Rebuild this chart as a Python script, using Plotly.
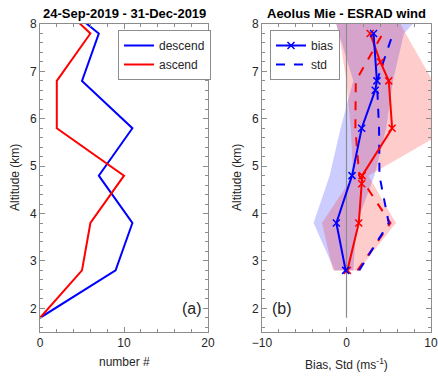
import plotly.graph_objects as go

# ---------------- data ----------------
# Panel (a): number of collocations per altitude bin
alt_a = [1.8, 2.8, 3.8, 4.8, 5.8, 6.8, 7.8, 8.8]
n_descend = [0, 9, 11, 7, 11, 5, 7, 0]
n_ascend = [0, 5, 6, 10, 2, 2, 6, 0]

# Panel (b): bias and std (m/s)
alt_b = [2.8, 3.8, 4.8, 5.8, 6.8, 7.8]
alt_bias_blue = [2.8, 3.8, 4.8, 5.8, 6.6, 6.8, 7.8]
bias_blue = [-0.1, -1.2, 0.65, 1.8, 3.4, 3.6, 3.2]
alt_bias_red = [2.8, 3.8, 4.63, 4.8, 5.8, 6.8, 7.2, 7.8]
bias_red = [0.1, 1.45, 1.8, 1.85, 5.4, 5.0, 4.0, 2.8]
std_blue = [1.5, 5.0, 3.9, 3.85, 3.6, 5.5]
std_red = [1.3, 5.2, 1.5, 1.05, 1.1, 4.3]

# shaded envelopes
alt_env = [2.8, 3.8, 4.8, 5.8, 6.8, 7.8, 8.8]
env_blue_lo = [-1.4, -3.9, -2.0, -0.7, 0.8, -0.9, -2.5]
env_blue_hi = [0.8, 1.2, 3.3, 4.7, 5.5, 6.8, 12.0]
env_red_lo = [-1.6, -2.9, 0.8, 0.5, 0.0, -0.9, -2.5]
env_red_hi = [1.4, 5.85, 2.6, 12.4, 10.2, 7.0, 4.0]

zero_x = [0, 0]
zero_alt = [1.8, 9.0]

# ---------------- figure ----------------
W, H = 438, 378
BLUE = "rgb(0,0,255)"
RED = "rgb(255,0,0)"
AX = "#8c8c8c"
TXT = "#262626"
FONT = "Liberation Sans, Arial, Helvetica, sans-serif"

fig = go.Figure()

# panel a
fig.add_trace(go.Scatter(x=n_descend, y=alt_a, mode="lines", name="descend",
                         line=dict(color=BLUE, width=2), xaxis="x", yaxis="y",
                         legend="legend"))
fig.add_trace(go.Scatter(x=n_ascend, y=alt_a, mode="lines", name="ascend",
                         line=dict(color=RED, width=2), xaxis="x", yaxis="y",
                         legend="legend"))

# panel b envelopes
def band(lo, hi, alts):
    return lo + hi[::-1], alts + alts[::-1]

bx, by = band(env_blue_lo, env_blue_hi, alt_env)
fig.add_trace(go.Scatter(x=bx, y=by, mode="lines", fill="toself",
                         fillcolor="rgba(0,0,255,0.2)", line=dict(width=0),
                         showlegend=False, hoverinfo="skip", xaxis="x2", yaxis="y2"))
rx, ry = band(env_red_lo, env_red_hi, alt_env)
fig.add_trace(go.Scatter(x=rx, y=ry, mode="lines", fill="toself",
                         fillcolor="rgba(255,0,0,0.2)", line=dict(width=0),
                         showlegend=False, hoverinfo="skip", xaxis="x2", yaxis="y2"))

# zero line
fig.add_trace(go.Scatter(x=zero_x, y=zero_alt, mode="lines",
                         line=dict(color="#8c8c8c", width=1.2),
                         showlegend=False, xaxis="x2", yaxis="y2"))

# std dashed
fig.add_trace(go.Scatter(x=std_red, y=alt_b, mode="lines",
                         line=dict(color=RED, width=2, dash="dash"),
                         showlegend=False, xaxis="x2", yaxis="y2"))
fig.add_trace(go.Scatter(x=std_blue, y=alt_b, mode="lines", name="std",
                         line=dict(color=BLUE, width=2, dash="dash"),
                         legend="legend2", legendrank=2, xaxis="x2", yaxis="y2"))

# bias
fig.add_trace(go.Scatter(x=bias_red, y=alt_bias_red, mode="lines+markers",
                         line=dict(color=RED, width=2),
                         marker=dict(symbol="x-thin", size=7,
                                     line=dict(color=RED, width=1.5)),
                         showlegend=False, xaxis="x2", yaxis="y2"))
fig.add_trace(go.Scatter(x=bias_blue, y=alt_bias_blue, mode="lines+markers",
                         name="bias", line=dict(color=BLUE, width=2),
                         marker=dict(symbol="x-thin", size=7,
                                     line=dict(color=BLUE, width=1.5)),
                         legend="legend2", legendrank=1, xaxis="x2", yaxis="y2"))

def px_x(p):
    return p / W

def px_y(p):
    return 1 - p / H

axis_common = dict(showline=True, linecolor=AX, linewidth=1, mirror="ticks",
                   ticks="inside", ticklen=5, tickcolor=AX, showgrid=False,
                   zeroline=False, automargin=False,
                   tickfont=dict(family=FONT, size=12, color=TXT))

fig.update_layout(
    width=W, height=H,
    margin=dict(l=0, r=0, t=0, b=0, autoexpand=False),
    paper_bgcolor="white", plot_bgcolor="white",
    font=dict(family=FONT, color=TXT),
    xaxis=dict(domain=[px_x(40), px_x(208)], range=[0, 20], tickvals=[0, 10, 20],
               minor=dict(ticks="inside", dtick=2, ticklen=3, tickcolor=AX),
               anchor="y", **axis_common),
    yaxis=dict(domain=[px_y(332), px_y(24)], range=[1.5, 8], dtick=1,
               minor=dict(ticks="inside", dtick=0.2, ticklen=3, tickcolor=AX),
               anchor="x", **axis_common),
    xaxis2=dict(domain=[px_x(262), px_x(431)], range=[-10, 10], tickvals=[-10, 0, 10],
                minor=dict(ticks="inside", dtick=2, ticklen=3, tickcolor=AX),
                anchor="y2", **axis_common),
    yaxis2=dict(domain=[px_y(332), px_y(24)], range=[1.5, 8], dtick=1,
                minor=dict(ticks="inside", dtick=0.2, ticklen=3, tickcolor=AX),
                anchor="x2", **axis_common),
    legend=dict(x=px_x(118), y=px_y(30), xanchor="left", yanchor="top",
                bgcolor="white", bordercolor=AX, borderwidth=1,
                font=dict(family=FONT, size=12, color=TXT),
                tracegroupgap=0, itemwidth=30),
    legend2=dict(x=px_x(270), y=px_y(30), xanchor="left", yanchor="top",
                 bgcolor="white", bordercolor=AX, borderwidth=1,
                 font=dict(family=FONT, size=12, color=TXT),
                 tracegroupgap=0, itemwidth=30, traceorder="normal"),
    showlegend=True,
)

ann = []
def add_text(x, y, text, size=12, bold=False, angle=0):
    ann.append(dict(x=px_x(x), y=px_y(y), xref="paper", yref="paper", text=text,
                    showarrow=False, textangle=angle,
                    font=dict(family=FONT, size=size, color="black" if bold else TXT),
                    xanchor="center", yanchor="middle"))

add_text(124, 13, "<b>24-Sep-2019 - 31-Dec-2019</b>", size=13, bold=True)
add_text(346, 13, "<b>Aeolus Mie - ESRAD wind</b>", size=13, bold=True)
add_text(15, 178, "Altitude (km)", angle=-90)
add_text(237, 178, "Altitude (km)", angle=-90)
add_text(124, 362, "number #")
add_text(346, 364, "Bias, Std (ms<sup>-1</sup>)")
add_text(192, 308, "(a)", size=16)
add_text(282, 308, "(b)", size=16)
fig.update_layout(annotations=ann)

fig.write_html("out.html", config={"displayModeBar": False},
               post_script="document.body.style.margin='0';document.body.style.padding='0';document.body.style.overflow='hidden';")
